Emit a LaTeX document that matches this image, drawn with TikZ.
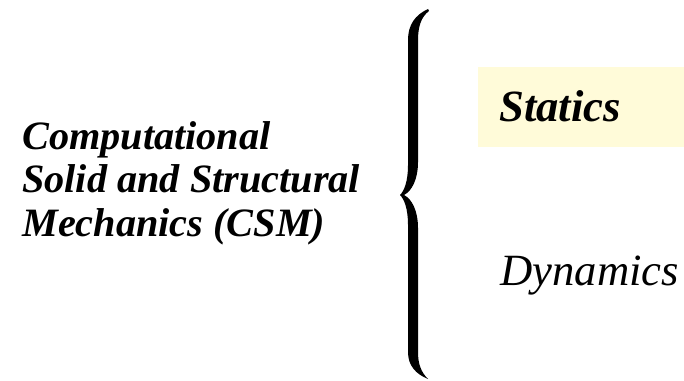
\documentclass[tikz,border=0pt]{standalone}
\usepackage{fontspec}
\setmainfont{Liberation Serif}
\definecolor{boxyellow}{RGB}{255,251,217}
\begin{document}
\begin{tikzpicture}[x=0.75pt,y=-0.75pt,
  lefttext/.style={font=\fontsize{30.2}{32.6}\selectfont\bfseries\itshape, align=left, inner sep=0pt},
  itemtext/.style={inner sep=0pt, anchor=base west},
  hlbox/.style={fill=boxyellow, draw=none, inner sep=0pt}]
\useasboundingbox (0,0) rectangle (684,381);
\fill[white] (0,0) rectangle (684,381);
% highlight box
\node[hlbox, minimum width=206*0.75pt, minimum height=80*0.75pt, anchor=north west] (hl) at (478,67) {};
% left label
\node[lefttext, anchor=west] (csm) at (22,183) {Computational\\Solid and Structural\\Mechanics (CSM)};
% brace
\fill[black] (428,9) .. controls (415,15) and (408,25) .. (408,40)
  -- (408,165) .. controls (408,182) and (404,191) .. (400,195)
  .. controls (404,199) and (408,208) .. (408,225)
  -- (408,352) .. controls (408,366) and (416,374) .. (428,379)
  .. controls (421,372) and (418,364) .. (418,352)
  -- (418,228) .. controls (418,211) and (412,199) .. (404,195)
  .. controls (412,191) and (418,179) .. (418,162)
  -- (418,40) .. controls (418,27) and (421,17) .. (429,11) -- cycle;
% items
\node[itemtext, font=\fontsize{33.5}{38}\selectfont\bfseries\itshape] (statics) at (499,122) {Statics};
\node[itemtext, font=\fontsize{33.5}{38}\selectfont\itshape] (dynamics) at (500,285) {Dynamics};
\end{tikzpicture}
\end{document}
